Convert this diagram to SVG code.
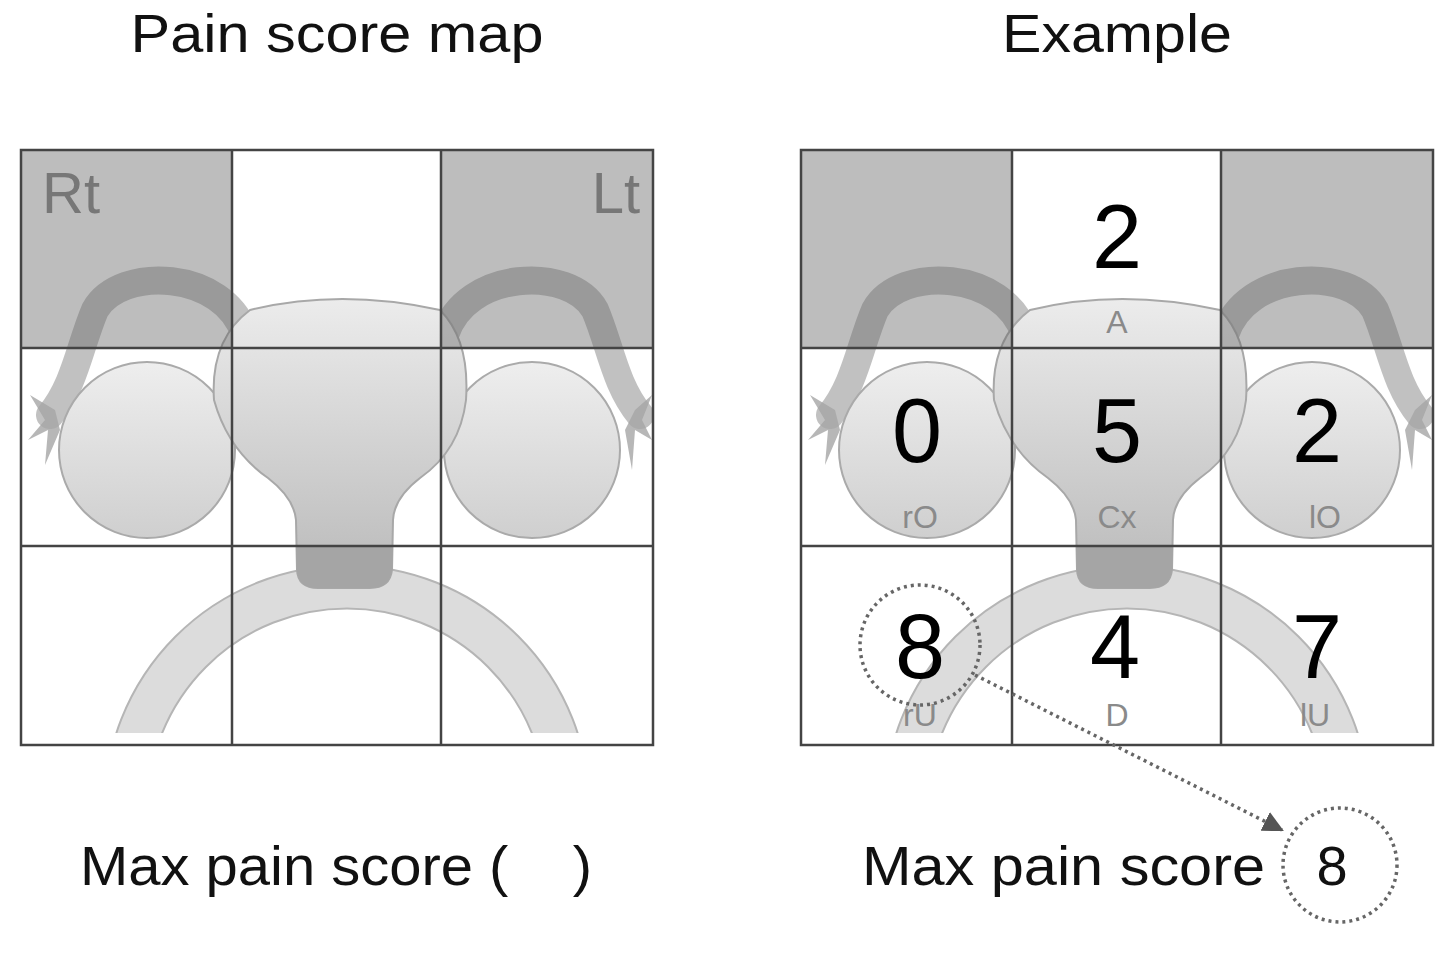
<svg xmlns="http://www.w3.org/2000/svg" width="1453" height="953" viewBox="0 0 1453 953">
<style>
.t{font-family:"Liberation Sans",Arial,sans-serif;}
.title{font-size:54px;fill:#111;text-anchor:middle}
.num{font-size:90px;fill:#000;text-anchor:middle}
.lab{font-size:32px;fill:#8a8a8a;text-anchor:middle}
.grid{fill:none;stroke:#444;stroke-width:2.5}
.dot{fill:none;stroke:#666;stroke-width:3.5;stroke-dasharray:3 4}
</style>
<defs>
<linearGradient id="ug" x1="0" y1="0" x2="0" y2="1"><stop offset="0" stop-color="#ececec"/><stop offset="1" stop-color="#b9b9b9"/></linearGradient>
<linearGradient id="og" x1="0" y1="0" x2="0" y2="1"><stop offset="0" stop-color="#eeeeee"/><stop offset="1" stop-color="#cfcfcf"/></linearGradient>
<clipPath id="arcclip"><rect x="0" y="540" width="700" height="193"/></clipPath>
<marker id="ah" viewBox="0 0 10 10" refX="9" refY="5" markerWidth="6" markerHeight="6" orient="auto"><path d="M0,0 L10,5 L0,10 Z" fill="#555"/></marker>
<g id="anat">
<g clip-path="url(#arcclip)"><path d="M126,808 A221,221 0 0 1 568,808" fill="none" stroke="#b5b5b5" stroke-width="45"/><path d="M126,808 A221,221 0 0 1 568,808" fill="none" stroke="#dcdcdc" stroke-width="41"/></g>
<path d="M245,335 C225,270 120,265 95,310 C80,345 75,385 50,415" fill="none" stroke="#a0a0a0" stroke-width="28" stroke-linecap="round" opacity="0.65"/>
<path d="M445,335 C465,270 570,265 595,310 C610,345 615,385 640,415" fill="none" stroke="#a0a0a0" stroke-width="28" stroke-linecap="round" opacity="0.65"/>
<path d="M55,410 L30,395 L45,420 L28,440 L48,430 L45,465 L60,430 Z" fill="#a5a5a5" opacity="0.8"/>
<path d="M635,410 L652,395 L642,420 L652,440 L635,430 L632,470 L625,430 Z" fill="#a5a5a5" opacity="0.8"/>
<circle cx="147" cy="450" r="88" fill="url(#og)" stroke="#aaa" stroke-width="2"/>
<circle cx="532" cy="450" r="88" fill="url(#og)" stroke="#aaa" stroke-width="2"/>
<path d="M250,310 Q340,288 440,310 Q470,340 466,400 Q460,450 420,478 Q394,498 393,520 L392,570 Q390,588 370,588 L318,588 Q298,588 297,570 L296,520 Q294,498 268,478 Q228,450 214,400 Q210,340 250,310 Z" fill="url(#ug)" stroke="#a8a8a8" stroke-width="2"/>
<path d="M296,546 L393,546 L392,570 Q390,588 370,588 L318,588 Q298,588 297,570 Z" fill="#a5a5a5"/>
<rect x="21" y="150" width="211" height="198" fill="#666" opacity="0.43"/>
<rect x="441" y="150" width="212" height="198" fill="#666" opacity="0.43"/>
<path class="grid" d="M21,150 H653 V745 H21 Z M232,150 V745 M441,150 V745 M21,348 H653 M21,546 H653"/>
</g>
</defs>
<g id="left-map">
<use href="#anat"/>
<text class="t title" x="337" y="52" textLength="413" lengthAdjust="spacingAndGlyphs">Pain score map</text>
<text class="t" x="42" y="213" font-size="58" fill="#777">Rt</text>
<text class="t" x="640" y="213" font-size="58" fill="#777" text-anchor="end">Lt</text>
<text class="t" x="80" y="885" font-size="56" fill="#111" xml:space="preserve" textLength="512" lengthAdjust="spacingAndGlyphs">Max pain score (    )</text>
</g>
<g id="right-map">
<use href="#anat" transform="translate(780,0)"/>
<text class="t title" x="1117" y="52" textLength="230" lengthAdjust="spacingAndGlyphs">Example</text>
<g class="t">
<text class="num" x="1117" y="268">2</text>
<text class="lab" x="1117" y="333">A</text>
<text class="num" x="917" y="462">0</text>
<text class="lab" x="920" y="528">rO</text>
<text class="num" x="1117" y="462">5</text>
<text class="lab" x="1117" y="528">Cx</text>
<text class="num" x="1317" y="462">2</text>
<text class="lab" x="1325" y="528">lO</text>
<text class="num" x="920" y="678">8</text>
<text class="lab" x="920" y="726">rU</text>
<text class="num" x="1115" y="678">4</text>
<text class="lab" x="1117" y="726">D</text>
<text class="num" x="1317" y="678">7</text>
<text class="lab" x="1315" y="726">lU</text>
</g>
<text class="t" x="862" y="885" font-size="56" fill="#111" textLength="403" lengthAdjust="spacingAndGlyphs">Max pain score</text>
<text class="t" x="1332" y="885" font-size="56" fill="#111" text-anchor="middle">8</text>
</g>
<g id="connectors">
<circle class="dot" cx="920" cy="645" r="60"/>
<circle class="dot" cx="1340" cy="865" r="57"/>
<line class="dot" x1="975" y1="675" x2="1282" y2="830" marker-end="url(#ah)"/>
</g>
</svg>
